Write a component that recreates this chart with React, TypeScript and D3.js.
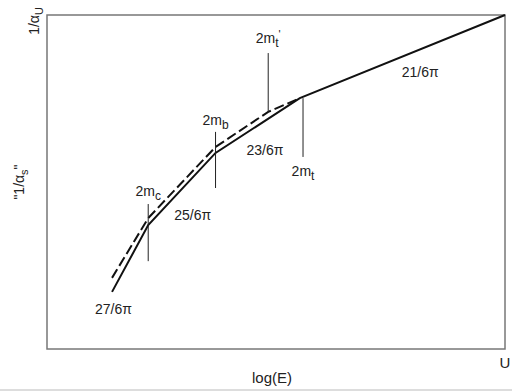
import React, { useEffect, useRef } from 'react';
import * as d3 from 'd3';

// running coupling, x = log(E) (0..100 arbitrary), y = 1/alpha (0..100 arbitrary)
const solidLogE = [14.2, 22.1, 36.8, 55.2, 100];
const solidInv = [17.1, 37.1, 58.7, 75.1, 100];

const dashedLogE = [14.2, 22.1, 36.8, 48.3, 55.2];
const dashedInv = [21.3, 39.2, 60.5, 71.0, 75.1];

// threshold markers
const markerNames = ['2mc', '2mb', "2mt'", '2mt'];
const markerLogE = [22.1, 36.8, 48.3, 55.9];
const markerTop = [43.4, 65.0, 88.6, 75.1];
const markerBottom = [26.3, 48.2, 71.0, 57.5];

// slope labels
const slopeLabels = ['27/6π', '25/6π', '23/6π', '21/6π'];
const slopeLogE = [14.5, 31.8, 47.6, 81.5];
const slopeInv = [10.5, 38.5, 58.0, 81.5];

const Sub = ({ main, sub, prime }: { main: string; sub: string; prime?: boolean }) => (
  <>
    <tspan>{main}</tspan>
    <tspan dy={4} fontSize={12}>{sub}</tspan>
    {prime ? <tspan dy={-9} fontSize={11}>'</tspan> : null}
  </>
);

const App = () => {
  const svgRef = useRef<SVGSVGElement>(null);
  const W = 512;
  const H = 392;
  const left = 47;
  const right = 505;
  const top = 15;
  const bottom = 349;

  const x = d3.scaleLinear().domain([0, 100]).range([left, right]);
  const y = d3.scaleLinear().domain([0, 100]).range([bottom, top]);

  useEffect(() => {
    const svg = d3.select(svgRef.current);
    svg.select('.lines').remove();
    const g = svg.append('g').attr('class', 'lines');

    const line = d3.line<number>()
      .x((d) => x(d))
      .y((_, i) => 0);

    const solid = d3.line<[number, number]>().x((d) => x(d[0])).y((d) => y(d[1]));

    g.append('path')
      .attr('d', solid(dashedLogE.map((v, i) => [v, dashedInv[i]]))!)
      .attr('fill', 'none')
      .attr('stroke', '#111')
      .attr('stroke-width', 2)
      .attr('stroke-dasharray', '10,4');

    g.append('path')
      .attr('d', solid(solidLogE.map((v, i) => [v, solidInv[i]]))!)
      .attr('fill', 'none')
      .attr('stroke', '#111')
      .attr('stroke-width', 2);

    g.selectAll('.marker')
      .data(markerNames)
      .enter()
      .append('line')
      .attr('class', 'marker')
      .attr('x1', (_, i) => x(markerLogE[i]))
      .attr('x2', (_, i) => x(markerLogE[i]))
      .attr('y1', (_, i) => y(markerTop[i]))
      .attr('y2', (_, i) => y(markerBottom[i]))
      .attr('stroke', '#222')
      .attr('stroke-width', 1);
    void line;
  }, []);

  const font = 'Liberation Sans, Arial, sans-serif';

  return (
    <svg
      ref={svgRef}
      width={W}
      height={H}
      style={{ position: 'absolute', left: 0, top: 0, background: '#fff' }}
      fontFamily={font}
      fontSize={14}
      fill="#222"
    >
      <rect x={left} y={top} width={right - left} height={bottom - top} fill="none" stroke="#777" strokeWidth={1.5} />
      <line x1={0} x2={W} y1={390} y2={390} stroke="#bbb" strokeWidth={1} />

      {/* threshold labels */}
      <text x={x(markerLogE[0])} y={y(markerTop[0]) - 8} textAnchor="middle"><Sub main="2m" sub="c" /></text>
      <text x={x(markerLogE[1])} y={y(markerTop[1]) - 7} textAnchor="middle"><Sub main="2m" sub="b" /></text>
      <text x={x(markerLogE[2])} y={y(markerTop[2]) - 10} textAnchor="middle"><Sub main="2m" sub="t" prime /></text>
      <text x={x(markerLogE[3])} y={y(markerBottom[3]) + 19} textAnchor="middle"><Sub main="2m" sub="t" /></text>

      {slopeLabels.map((s, i) => (
        <text key={s} x={x(slopeLogE[i])} y={y(slopeInv[i])} textAnchor="middle">{s}</text>
      ))}

      <text x={272} y={383} textAnchor="middle" fontSize={15}>log(E)</text>
      <text x={505} y={368} textAnchor="middle" fontSize={15}>U</text>

      <text transform="translate(39,21) rotate(-90)" textAnchor="middle" fontSize={14}>
        <tspan>1/α</tspan>
        <tspan dy={4} fontSize={11}>U</tspan>
      </text>
      <text transform="translate(24,182) rotate(-90)" textAnchor="middle" fontSize={14}>
        <tspan>"1/α</tspan>
        <tspan dy={4} fontSize={11}>s</tspan>
        <tspan dy={-4}>"</tspan>
      </text>
    </svg>
  );
};

export default App;
